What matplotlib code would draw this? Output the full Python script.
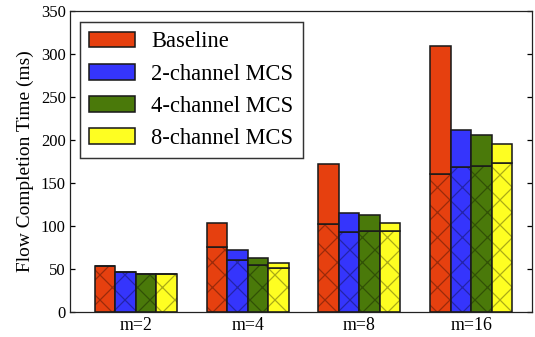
import matplotlib
matplotlib.use('Agg')
import matplotlib.pyplot as plt
from matplotlib.patches import Patch
import numpy as np

groups = ['m=2', 'm=4', 'm=8', 'm=16']
series = ['Baseline', '2-channel MCS', '4-channel MCS', '8-channel MCS']
colors = ['#e6400f', '#3535fc', '#4a790a', '#fefe22']

# total bar height and the hatched lower part, per series
total = [
    [53, 103, 172, 309],
    [46, 72, 115, 212],
    [44, 63, 113, 206],
    [44, 57, 103, 195],
]
lower = [
    [53, 76, 102, 160],
    [46, 60, 93, 169],
    [44, 55, 94, 170],
    [44, 51, 94, 173],
]

plt.rcParams['font.family'] = ['Liberation Serif', 'DejaVu Serif']
plt.rcParams['hatch.linewidth'] = 0.6

dpi = 150
fig = plt.figure(figsize=(535 / dpi, 337 / dpi), dpi=dpi)
ax = fig.add_axes([70 / 535, 25 / 337, 462 / 535, 301 / 337])

x = np.arange(len(groups))
w = 0.183
edge = '#1a1a1a'
for i, name in enumerate(series):
    pos = x + (i - 1.5) * w
    lo = np.array(lower[i])
    up = np.array(total[i]) - lo
    # hatched lower part
    ax.bar(pos, lo, w, color=colors[i], hatch='xx',
           edgecolor=(0, 0, 0, 0.33), linewidth=0)
    ax.bar(pos, lo, w, fill=False, edgecolor=edge, linewidth=0.75)
    # plain upper part
    ax.bar(pos, up, w, bottom=lo, color=colors[i],
           edgecolor=edge, linewidth=0.75)

ax.set_xlim(-0.59, 3.545)
ax.set_ylim(0, 350)
ax.set_xticks(x)
ax.set_xticklabels(groups)
ax.set_yticks(range(0, 351, 50))
ax.tick_params(axis='x', length=0, labelsize=8.6, pad=2.5)
ax.tick_params(axis='y', direction='in', length=2.5, width=0.6,
               labelsize=8, right=True, pad=2)
for s in ax.spines.values():
    s.set_linewidth(0.6)
    s.set_color('#222222')
ax.set_ylabel('Flow Completion Time (ms)', fontsize=9.3, labelpad=3.3)

handles = [Patch(facecolor=c, edgecolor=edge, linewidth=0.75) for c in colors]
ax.legend(handles, series, loc='upper left', fontsize=10.8,
          bbox_to_anchor=(0.022, 0.962), borderaxespad=0,
          handlelength=2.05, handleheight=0.7, labelspacing=0.5,
          handletextpad=0.72, fancybox=False, framealpha=1,
          edgecolor='#333333', borderpad=0.4)
ax.get_legend().get_frame().set_linewidth(0.7)

fig.savefig('out.png', dpi=dpi)
